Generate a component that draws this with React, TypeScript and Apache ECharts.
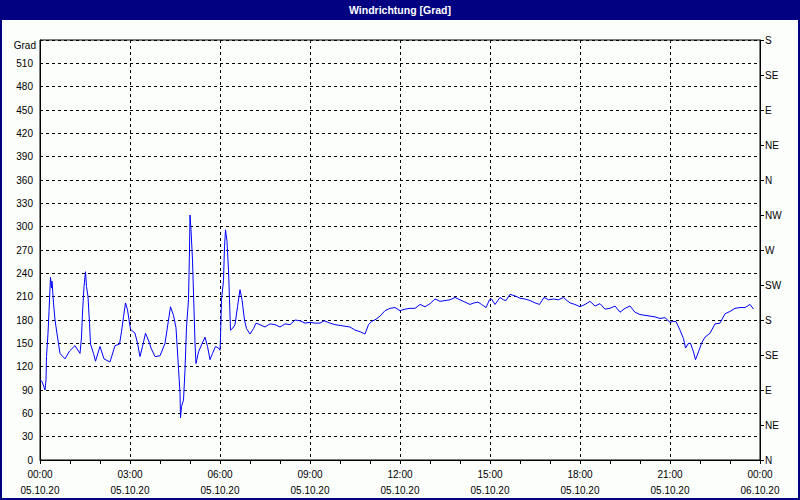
import React, { useEffect, useRef } from "react";
import * as echarts from "echarts";

const minutes = [
  0, 4, 10, 12, 13, 16, 18, 20, 21, 23, 24, 27, 30, 35, 40, 50, 59, 70, 80, 83, 85, 88, 91, 93, 96, 99,
  101, 107, 111, 120, 128, 140, 150, 159, 163, 167, 171, 175, 179, 181, 190, 195, 200, 205, 211, 218,
  222, 230, 240, 250, 257, 261, 267, 272, 277, 280, 281, 283, 287, 290, 293, 297, 299, 300, 302, 305,
  308, 310, 312, 317, 323, 330, 335, 340, 345, 351, 357, 360, 361, 363, 367, 369, 371, 374, 377, 379,
  381, 385, 390, 395, 400, 404, 409, 413, 420, 427, 432, 440, 450, 460, 470, 480, 490, 500, 510, 520,
  530, 540, 550, 560, 568, 580, 590, 600, 610, 620, 630, 640, 650, 657, 663, 672, 680, 690, 700, 710,
  720, 730, 740, 750, 760, 770, 780, 790, 800, 810, 820, 830, 840, 850, 860, 868, 876, 883, 892, 899,
  903, 910, 920, 927, 932, 940, 950, 960, 970, 980, 990, 999, 1008, 1017, 1027, 1037, 1047, 1052, 1060,
  1070, 1080, 1090, 1100, 1110, 1120, 1130, 1140, 1150, 1160, 1170, 1180, 1190, 1200, 1210, 1220, 1230,
  1240, 1250, 1260, 1265, 1272, 1280, 1287, 1291, 1297, 1301, 1307, 1311, 1317, 1323, 1330, 1340, 1350,
  1360, 1370, 1380, 1390, 1400, 1410, 1420, 1427,
];

const degrees = [
  103, 101, 90, 103, 133, 163, 191, 221, 235, 221, 230, 202, 180, 158, 137, 130, 140, 147, 137, 158, 189,
  223, 242, 223, 210, 176, 149, 137, 127, 146, 130, 126, 147, 149, 165, 184, 202, 193, 176, 168, 163, 150,
  133, 146, 163, 152, 144, 133, 134, 150, 180, 197, 186, 170, 118, 86, 54, 69, 77, 116, 171, 206, 270, 315,
  296, 257, 193, 150, 124, 139, 148, 158, 146, 129, 137, 146, 144, 141, 158, 206, 231, 274, 296, 281, 244,
  206, 167, 169, 174, 197, 219, 206, 180, 169, 162, 169, 176, 174, 171, 175, 174, 171, 175, 174, 180, 179,
  176, 177, 176, 176, 179, 176, 174, 173, 172, 171, 167, 165, 162, 174, 178, 181, 185, 192, 195, 196,
  192, 194, 195, 195, 200, 197, 201, 207, 204, 205, 206, 209, 206, 203, 200, 202, 203, 200, 196, 206,
  207, 200, 209, 206, 205, 213, 211, 208, 207, 205, 202, 200, 209, 206, 207, 206, 209, 206, 202,
  200, 197, 200, 204, 198, 201, 194, 195, 198, 190, 195, 198, 190, 187, 186, 185, 184,
  182, 183, 177, 178, 178, 167, 156, 144, 150, 150, 139, 129, 139, 150, 158, 163, 175,
  176, 188, 191, 195, 196, 196, 200, 194,
];

const directionLabels = ["N", "NE", "E", "SE", "S", "SW", "W", "NW", "N", "NE", "E", "SE", "S"];
const dateLabel = "05.10.20";
const nextDateLabel = "06.10.20";
const titleText = "Windrichtung [Grad]";
const unitText = "Grad";

const FONT = "'Liberation Sans', Arial, sans-serif";

export default function App() {
  const ref = useRef<HTMLDivElement>(null);

  useEffect(() => {
    if (!ref.current) return;
    const chart = echarts.init(ref.current, null, { renderer: "svg" });
    const data = minutes.map((m, i) => [m, degrees[i]]);
    const navy = "#000080";

    chart.setOption({
      animation: false,
      backgroundColor: "#fcfefc",
      textStyle: { fontFamily: FONT },
      grid: {
        left: 40,
        right: 40,
        top: 40,
        bottom: 40,
        show: true,
        borderColor: "#000",
        borderWidth: 1,
        backgroundColor: "transparent",
      },
      graphic: [
        {
          type: "rect",
          shape: { x: 0, y: 0, width: 800, height: 20 },
          style: { fill: navy },
          silent: true,
        },
        {
          type: "rect",
          shape: { x: 1, y: 1, width: 798, height: 498 },
          style: { fill: "none", stroke: navy, lineWidth: 2 },
          silent: true,
        },
        {
          type: "text",
          x: 400,
          y: 10,
          style: {
            text: titleText,
            fill: "#fff",
            font: `bold 10.5px ${FONT}`,
            align: "center",
            verticalAlign: "middle",
          },
          silent: true,
        },
        {
          type: "text",
          x: 36,
          y: 45,
          style: {
            text: unitText,
            fill: "#000",
            font: `10px ${FONT}`,
            align: "right",
            verticalAlign: "middle",
          },
          silent: true,
        },
      ],
      xAxis: {
        type: "value",
        min: 0,
        max: 1440,
        interval: 180,
        axisLine: { show: true, lineStyle: { color: "#000", width: 1 } },
        axisTick: { show: true, length: 4, lineStyle: { color: "#000" } },
        minorTick: { show: true, splitNumber: 3, length: 4, lineStyle: { color: "#000" } },
        splitLine: { show: true, lineStyle: { color: "#000", type: [3, 3], width: 1 } },
        axisLabel: {
          color: "#000",
          fontSize: 10,
          fontFamily: FONT,
          lineHeight: 16,
          margin: 6,
          formatter: (v: number) => {
            const h = Math.floor(v / 60) % 24;
            const hh = (h < 10 ? "0" : "") + h + ":00";
            return hh + "\n" + (v >= 1440 ? nextDateLabel : dateLabel);
          },
        },
      },
      yAxis: [
        {
          type: "value",
          min: 0,
          max: 540,
          interval: 30,
          axisLine: { show: true, lineStyle: { color: "#000", width: 1 } },
          axisTick: { show: false },
          splitLine: { show: true, lineStyle: { color: "#000", type: [3, 3], width: 1 } },
          axisLabel: {
            color: "#000",
            fontSize: 10,
            fontFamily: FONT,
            margin: 7,
            formatter: (v: number) => (v >= 540 ? "" : String(v)),
          },
        },
        {
          type: "value",
          position: "right",
          min: 0,
          max: 540,
          interval: 45,
          axisLine: { show: true, lineStyle: { color: "#000", width: 1 } },
          axisTick: { show: true, length: 4, lineStyle: { color: "#000" } },
          splitLine: { show: false },
          axisLabel: {
            color: "#000",
            fontSize: 10,
            fontFamily: FONT,
            margin: 5,
            formatter: (v: number) => directionLabels[Math.round(v / 45)] ?? "",
          },
        },
      ],
      series: [
        {
          type: "line",
          data,
          yAxisIndex: 0,
          showSymbol: false,
          symbol: "none",
          lineStyle: { color: "#0000ff", width: 1 },
          z: 5,
        },
      ],
    });

    return () => chart.dispose();
  }, []);

  return (
    <div
      ref={ref}
      style={{ position: "absolute", left: 0, top: 0, width: 800, height: 500 }}
    />
  );
}
